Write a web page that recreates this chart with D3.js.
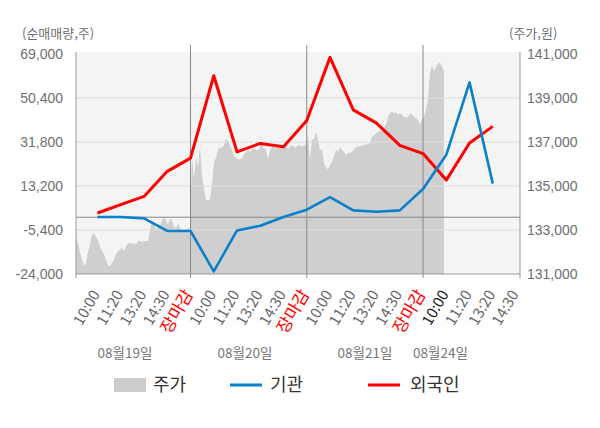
<!DOCTYPE html>
<html><head><meta charset="utf-8">
<script src="https://cdn.jsdelivr.net/npm/d3@7"></script>
<style>body{margin:0;background:#fff;} svg{display:block;font-family:"Noto Sans CJK KR","Noto Sans",sans-serif;}</style>
</head><body><svg id="c" width="600" height="428"></svg>
<script>
const timeLabels = ["10:00","11:20","13:20","14:30","장마감","10:00","11:20","13:20","14:30","장마감","10:00","11:20","13:20","14:30","장마감","10:00","11:20","13:20","14:30"];
const institution = [100, 100, -500, -5800, -5800, -22900, -5600, -3600, 100, 3200, 8500, 2900, 2300, 2900, 11900, 26400, 57000, 14200];
const foreign = [1800, 5300, 8800, 19400, 25000, 59800, 27600, 31200, 29800, 40900, 67600, 45400, 39800, 30400, 26900, 15700, 31400, 38400];
const leftTicks = [-24000, -5400, 13200, 31800, 50400, 69000];
const rightTicks = [131000, 133000, 135000, 137000, 139000, 141000];
const dateLabels = ["08월19일", "08월20일", "08월21일", "08월24일"];
const price = [
 132700,132400,132000,131650,131350,131500,132000,132350,132800,132850,132700,132500,132250,132050,131900,131650,131400,131350,131500,131650,131900,132050,132100,132200,132050,132250,132400,132400,132400,132400,132350,132500,132500,132450,132500,132500,132500,133000,133450,133350,133000,133150,133200,133450,133600,133450,133250,133500,133450,133150,133100,133300,133100,133000,133000,133000,133100,133000,
 136350,135300,136350,135850,136800,135500,134850,134350,134350,134400,135050,136050,136300,136650,136750,136750,136850,137150,137050,136850,136650,136350,136300,136200,136200,136250,136450,136550,136650,136550,136650,136750,136650,136600,136750,136850,136700,136650,136200,136650,136750,136800,136700,136800,136800,136750,136850,136800,136700,136800,136850,136800,136750,136850,136850,136800,136850,136900,
 137250,136200,137100,137100,137500,137100,136650,136650,136050,135850,135750,135950,136100,136350,136650,136550,136750,136650,136550,136400,136500,136500,136550,136650,136750,136800,136800,136850,136850,136900,136900,136950,137250,137300,137400,137450,137500,137500,137650,137800,138150,138300,138400,138300,138350,138250,138300,138250,138150,138100,138150,138300,138250,138150,138100,138000,137800,138000,
 138150,138450,138900,140150,140500,140200,140400,140550,140600,140450,140200
];

const svg = d3.select("#c");
const L = 76, R = 520, T = 54, B = 274;
const x = d3.scaleLinear().domain([-0.925, 18.17]).range([L, R]);
const yL = d3.scaleLinear().domain([-24000, 69000]).range([B, T]);
const yR = d3.scaleLinear().domain([131000, 141000]).range([B, T]);
const xP = d3.scaleLinear().domain([0, price.length - 1]).range([L, x(14.9)]);
const fmt = d => d3.format(",")(d).replace("\u2212", "-");

// background
svg.append("rect").attr("x", L).attr("y", T - 2).attr("width", R - L).attr("height", B - T + 2).attr("fill", "#f4f4f4");

// price area
svg.append("path").datum(price)
  .attr("d", d3.area().x((d, i) => xP(i)).y0(B).y1(d => yR(d)))
  .attr("fill", "#cfcfcf");

// gridlines
svg.append("g").selectAll("line").data(leftTicks.filter(d => d !== -24000 && d !== 69000)).join("line")
  .attr("x1", L).attr("x2", R).attr("y1", d => yL(d)).attr("y2", d => yL(d))
  .attr("stroke", "#dcdcdc").attr("stroke-width", 1);

// zero line
svg.append("line").attr("x1", L).attr("x2", R).attr("y1", yL(0)).attr("y2", yL(0))
  .attr("stroke", "#888").attr("stroke-width", 1);

// day separators
const daySlots = [4, 9, 14];
svg.append("g").selectAll("line").data(daySlots).join("line")
  .attr("x1", d => x(d)).attr("x2", d => x(d)).attr("y1", T - 9).attr("y2", B + 4)
  .attr("stroke", "#8a8a8a").attr("stroke-width", 1);

// axis frame
svg.append("line").attr("x1", L).attr("x2", R).attr("y1", B).attr("y2", B).attr("stroke", "#999");
svg.append("line").attr("x1", L).attr("x2", L).attr("y1", T - 2).attr("y2", B + 4).attr("stroke", "#999");
svg.append("line").attr("x1", R).attr("x2", R).attr("y1", T - 2).attr("y2", B + 4).attr("stroke", "#999");

// lines
const line = d3.line().x((d, i) => x(i)).y(d => yL(d));
svg.append("path").datum(foreign).attr("d", line).attr("fill", "none").attr("stroke", "#ff0000").attr("stroke-width", 3).attr("stroke-linejoin", "round");
svg.append("path").datum(institution).attr("d", line).attr("fill", "none").attr("stroke", "#0a80cc").attr("stroke-width", 2.6).attr("stroke-linejoin", "round");

// left axis
const gl = svg.append("g").attr("transform", `translate(${L - 10},0)`)
  .call(d3.axisLeft(yL).tickValues(leftTicks).tickSize(0).tickFormat(fmt));
gl.select(".domain").remove();
gl.selectAll("text").attr("fill", "#707070").style("font-size", "14px").attr("font-family", null);

// right axis
const gr = svg.append("g").attr("transform", `translate(${R + 7},0)`)
  .call(d3.axisRight(yR).tickValues(rightTicks).tickSize(0).tickFormat(fmt));
gr.select(".domain").remove();
gr.selectAll("text").attr("fill", "#707070").style("font-size", "14px").attr("font-family", null).attr("x", 0);

// axis titles
svg.append("text").attr("x", 22).attr("y", 38).text("(순매매량,주)").attr("fill", "#707070").style("font-size", "13px");
svg.append("text").attr("x", 509).attr("y", 38).text("(주가,원)").attr("fill", "#707070").style("font-size", "13px");

// x labels
svg.append("g").selectAll("text").data(timeLabels).join("text")
  .attr("transform", (d, i) => `translate(${x(i) + 3},${B + 20}) rotate(-60)`)
  .attr("text-anchor", "end")
  .style("font-size", d => d === "장마감" ? "17px" : "15px")
  .attr("fill", (d, i) => d === "장마감" ? "#ff0000" : (i === 15 ? "#222" : "#6a6a6a"))
  .text(d => d);

// date labels
const dateSlots = [1.18, 6.34, 11.5, 14.75];
svg.append("g").selectAll("text").data(dateLabels).join("text")
  .attr("x", (d, i) => x(dateSlots[i])).attr("y", 358)
  .attr("text-anchor", "middle").style("font-size", "13.5px").attr("fill", "#777")
  .text(d => d);

// legend
const lg = svg.append("g").style("font-size", "18px").attr("fill", "#333");
lg.append("rect").attr("x", 114).attr("y", 378).attr("width", 32).attr("height", 14).attr("fill", "#cccccc");
lg.append("text").attr("x", 153).attr("y", 391).text("주가");
lg.append("line").attr("x1", 230).attr("x2", 262).attr("y1", 385).attr("y2", 385).attr("stroke", "#0a80cc").attr("stroke-width", 3);
lg.append("text").attr("x", 270).attr("y", 391).text("기관");
lg.append("line").attr("x1", 368).attr("x2", 400).attr("y1", 385).attr("y2", 385).attr("stroke", "#ff0000").attr("stroke-width", 3);
lg.append("text").attr("x", 410).attr("y", 391).text("외국인");
</script></body></html>
